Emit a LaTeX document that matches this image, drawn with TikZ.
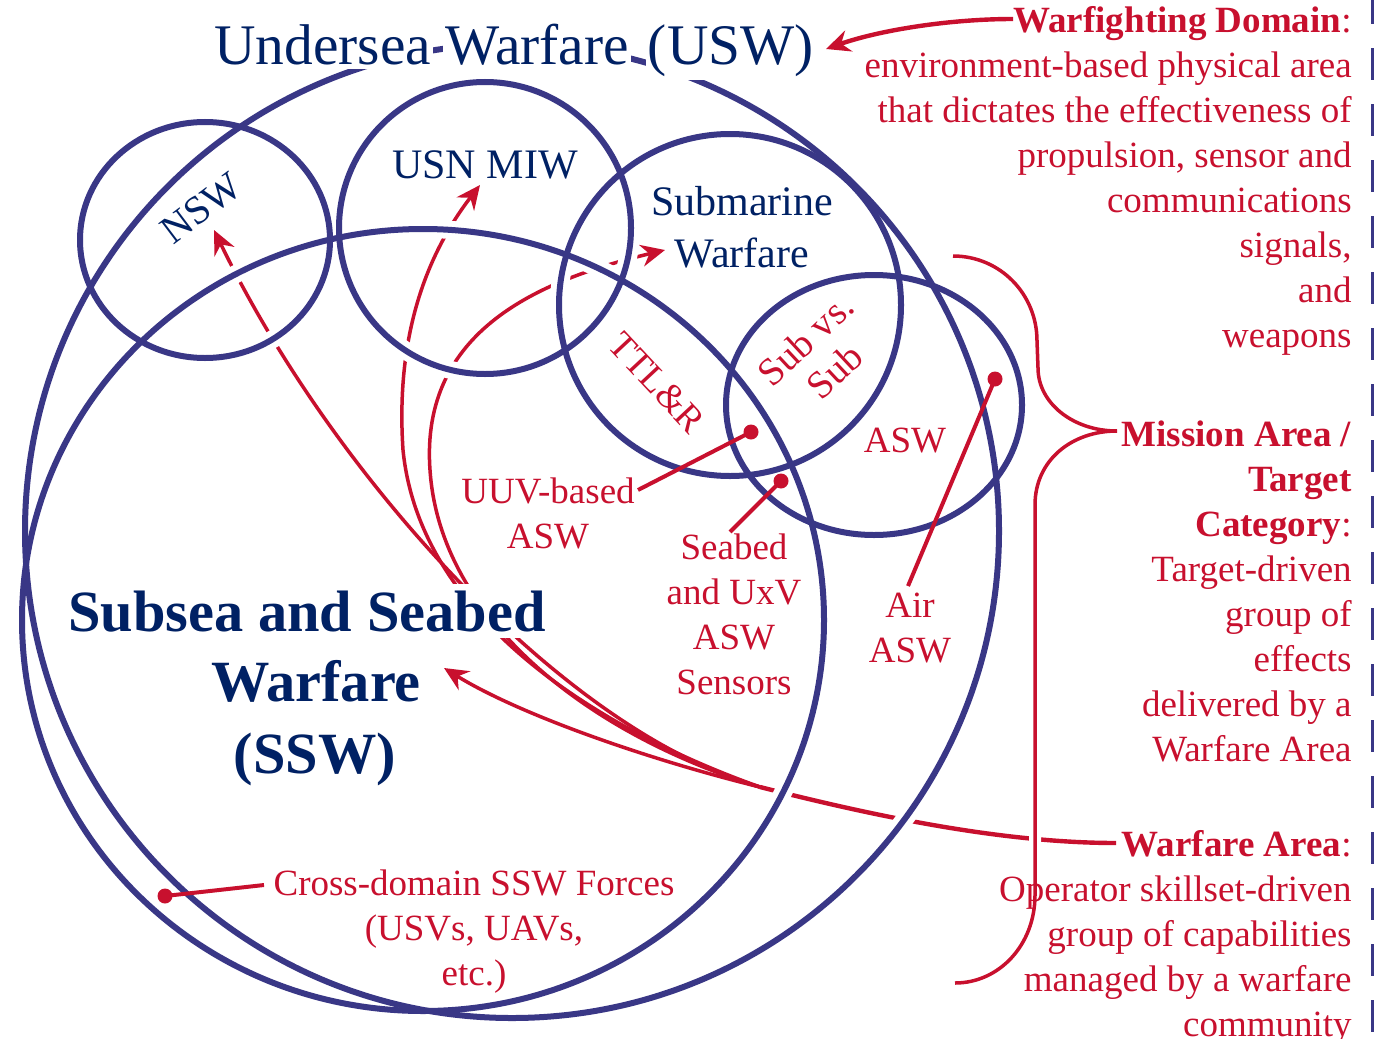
\documentclass[tikz,border=0pt]{standalone}
\usepackage{fontspec}
\setmainfont{Liberation Serif}
\usetikzlibrary{arrows.meta}
\definecolor{uswnavy}{RGB}{0,33,100}
\definecolor{uswblue}{RGB}{57,55,134}
\definecolor{uswred}{RGB}{200,16,46}
\newcommand\uswTitle{\fontsize{28.7}{34}\selectfont}
\newcommand\uswSSW{\fontsize{29.2}{36}\selectfont\bfseries}
\newcommand\uswMed{\fontsize{21}{26}\selectfont}
\newcommand\uswNSW{\fontsize{20}{24}\selectfont}
\newcommand\uswBody{\fontsize{18.5}{22.5}\selectfont}
\begin{document}
\begin{tikzpicture}[x=0.5pt,y=-0.5pt,
  ring/.style={draw=uswblue, line width=3pt},
  halo/.style={draw=white, line width=9pt},
  redline/.style={draw=uswred, line width=1.75pt},
  trunkline/.style={draw=uswred, line width=2.2pt},
  redarrow/.style={redline, -{Stealth[length=12pt,width=11pt,inset=4pt]}},
  dotline/.style={draw=uswred, line width=2pt},
  navytext/.style={text=uswnavy, inner sep=0pt},
  titleword/.style={navytext, font=\uswTitle, fill=white, inner xsep=1pt, inner ysep=1.5pt, anchor=base west},
  redtext/.style={text=uswred, inner sep=0pt, font=\uswBody},
]
\useasboundingbox[fill=white] (0,0) rectangle (1374,1038);

% ---------- coordinates ----------
\coordinate (J) at (760,787);
\coordinate (waEnd) at (1116,843);
\coordinate (wfdEnd) at (1013,19);
\coordinate (uswTip) at (826,49);
\coordinate (nswTip) at (214,230);
\coordinate (miwMid) at (403,450);
\coordinate (miwTip) at (480,185);
\coordinate (subMid) at (430,470);
\coordinate (subTip) at (665,250);
\coordinate (sswTip) at (444,668);
\coordinate (uuvStart) at (638,490);
\coordinate (uuvDot) at (751,432);
\coordinate (seaStart) at (730,532);
\coordinate (seaDot) at (781,481);
\coordinate (airStart) at (908,586);
\coordinate (airDot) at (995,379);
\coordinate (crossStart) at (264,885);
\coordinate (crossDot) at (165,896);
\coordinate (braceTop) at (953,256);
\coordinate (braceTip) at (1117,431);
\coordinate (braceBot) at (955,983);

% ---------- red connectors (under the rings) ----------
\draw[trunkline] (waEnd) .. controls (1000,843) and (870,815) .. (J);
\draw[redarrow] (J) .. controls (560,730) and (330,470) .. (nswTip);
\draw[redarrow] (J) .. controls (600,730) and (420,620) .. (miwMid)
                   .. controls (395,330) and (430,250) .. (miwTip);
\draw[redarrow] (J) .. controls (590,735) and (440,620) .. (subMid)
                   .. controls (420,330) and (540,280) .. (subTip);
\draw[redarrow] (J) .. controls (650,760) and (520,715) .. (sswTip);
\draw[redarrow, line width=2.2pt] (wfdEnd) .. controls (950,19) and (880,30) .. (uswTip);

% ---------- rings ----------
\foreach \sty in {halo,ring}{
  \draw[\sty] (512,531) circle [radius=487];
  \draw[\sty] (423,620) ellipse [x radius=401, y radius=391];
  \draw[\sty] (205,240) ellipse [x radius=125, y radius=118];
  \draw[\sty] (485,228) circle [radius=146];
  \draw[\sty] (730,305) circle [radius=171];
  \draw[\sty] (874,405) ellipse [x radius=148, y radius=130];
}

% ---------- brace ----------
\draw[redline, preaction={draw=white, line width=6pt}]
  (braceTop) .. controls (1000,256) and (1037,294) .. (1037,341)
  -- (1038,368) .. controls (1038,403) and (1073,431) .. (braceTip)
  .. controls (1072,431) and (1035,460) .. (1035,505)
  -- (1035,895) .. controls (1035,945) and (999,983) .. (braceBot);

% ---------- dot connectors ----------
\draw[dotline] (uuvStart) -- (uuvDot);
\draw[dotline] (seaStart) -- (seaDot);
\draw[dotline] (airStart) -- (airDot);
\draw[dotline] (crossStart) -- (crossDot);
\foreach \d in {uuvDot,seaDot,airDot,crossDot}{
  \fill[uswred] (\d) circle [radius=7.5];
}

% ---------- right-edge dashed rule ----------
\draw[uswblue, line width=2.5pt, dash pattern=on 16pt off 12pt] (1373.5,-8) -- (1373.5,1046);

% ---------- texts ----------
\node[titleword] (uswA) at (212,65) {Undersea};
\node[titleword] (uswB) at (443,65) {Warfare};
\node[titleword] (uswC) at (645.5,65) {(USW)};

\node[navytext, font=\uswSSW, anchor=base, fill=white, inner sep=3pt] (sswA) at (307,631) {Subsea and Seabed};
\node[navytext, font=\uswSSW, anchor=base] (sswB) at (316,701) {Warfare};
\node[navytext, font=\uswSSW, anchor=base] (sswC) at (315,773) {(SSW)};

\node[navytext, font=\uswNSW, rotate=37] (nsw) at (201,208) {NSW};
\node[navytext, font=\uswMed, anchor=base] (miw) at (485,178) {USN MIW};
\node[navytext, font=\uswMed, align=center, anchor=north] (subw) at (742,186) {Submarine\\Warfare};

\node[redtext, rotate=-47] (ttl) at (657,383) {TTL\&R};
\node[redtext, rotate=43, align=center, font=\fontsize{19.5}{21.5}\selectfont] (svs) at (820,355) {Sub vs.\\Sub};
\node[redtext, anchor=base] (asw) at (905,452) {ASW};
\node[redtext, align=center, anchor=north] (uuv) at (548,477) {UUV-based\\ASW};
\node[redtext, align=center, anchor=north] (seabed) at (734,533) {Seabed\\and UxV\\ASW\\Sensors};
\node[redtext, align=center, anchor=north] (air) at (910,593) {Air\\ASW};
\node[redtext, align=center, anchor=north] (cross) at (474,869)
  {Cross-domain SSW Forces\\(USVs, UAVs,\\etc.)};

\node[redtext, align=right, anchor=north east] (wfd) at (1352,6)
  {\textbf{Warfighting Domain}:\\environment-based physical area\\that dictates the effectiveness of\\propulsion, sensor and\\communications\\signals,\\and\\weapons};
\node[redtext, align=right, anchor=north east] (mis) at (1352,420)
  {\textbf{Mission Area /}\\\textbf{Target}\\\textbf{Category}:\\Target-driven\\group of\\effects\\delivered by a\\Warfare Area};
\node[redtext, align=right, anchor=north east] (war) at (1352,830)
  {\textbf{Warfare Area}:\\Operator skillset-driven\\group of capabilities\\managed by a warfare\\community};
\end{tikzpicture}
\end{document}
